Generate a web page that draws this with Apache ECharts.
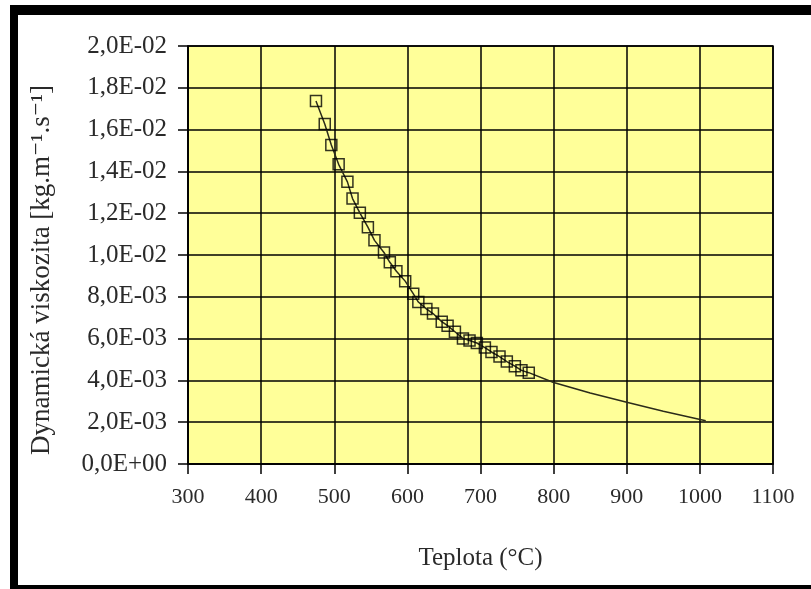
<!DOCTYPE html>
<html>
<head>
<meta charset="utf-8">
<script src="https://cdn.jsdelivr.net/npm/echarts@6/dist/echarts.min.js"></script>
<style>
  html, body { margin: 0; padding: 0; background: #ffffff; }
  #chart { width: 811px; height: 589px; }
</style>
</head>
<body>
<div id="chart"></div>
<script>
// Measured points: temperature (°C) and dynamic viscosity (kg·m⁻¹·s⁻¹)
const measuredTemp = [475, 487, 496, 506, 518, 525, 535, 546, 555, 568, 576, 585, 597, 608, 615, 626, 635, 647, 655, 665, 676, 685, 695, 706, 715, 726, 736, 747, 756, 766];
const measuredVisc = [0.01737, 0.01627, 0.01526, 0.01434, 0.01350, 0.01270, 0.01202, 0.01133, 0.01070, 0.01012, 0.00965, 0.00922, 0.00875, 0.00815, 0.00775, 0.00742, 0.00720, 0.00681, 0.00662, 0.00633, 0.00601, 0.00591, 0.00579, 0.00557, 0.00536, 0.00514, 0.00490, 0.00468, 0.00448, 0.00437];

// Continuation of the trend curve past the last measurement
const curveTailTemp = [800, 850, 900, 950, 1008];
const curveTailVisc = [0.00390, 0.00340, 0.00295, 0.00252, 0.00207];

// Axis ranges and steps
const tempMin = 300, tempMax = 1100, tempStep = 100;
const viscMin = 0, viscMax = 0.02, viscStep = 0.002;

// Axis titles
const xTitle = 'Teplota (°C)';
const yTitle = 'Dynamická viskozita [kg.m⁻¹.s⁻¹]';

const markerPoints = measuredTemp.map((t, i) => [t, measuredVisc[i]]);
const curvePoints = markerPoints.concat(curveTailTemp.map((t, i) => [t, curveTailVisc[i]]));

// "1,8E-02" style labels with a decimal comma
function sciComma(v) {
  if (Math.abs(v) < 1e-12) return '0,0E+00';
  let e = Math.floor(Math.log10(Math.abs(v)) + 1e-9);
  let m = v / Math.pow(10, e);
  if (Math.abs(m) >= 9.95) { m /= 10; e += 1; }
  const sign = e < 0 ? '-' : '+';
  const ex = String(Math.abs(e)).padStart(2, '0');
  return m.toFixed(1).replace('.', ',') + 'E' + sign + ex;
}

const serif = '"Liberation Serif", "DejaVu Serif", serif';
const textColor = '#2a2a2a';

const chart = echarts.init(document.getElementById('chart'), null, { renderer: 'canvas' });
chart.setOption({
  backgroundColor: '#ffffff',
  animation: false,
  grid: {
    left: 188, top: 46, width: 585, height: 418,
    show: true,
    backgroundColor: '#ffff99',
    borderColor: '#000000',
    borderWidth: 1.5
  },
  xAxis: {
    type: 'value',
    min: tempMin, max: tempMax, interval: tempStep,
    name: xTitle,
    nameLocation: 'middle',
    nameGap: 82,
    nameTextStyle: { fontFamily: serif, fontSize: 25, color: textColor },
    axisLine: { show: true, lineStyle: { color: '#000', width: 1.5 } },
    axisTick: { show: true, length: 10, lineStyle: { color: '#000', width: 1.5 } },
    axisLabel: { margin: 22, fontFamily: serif, fontSize: 22, color: textColor, formatter: v => String(v) },
    splitLine: { show: true, lineStyle: { color: '#000', width: 1.5 } }
  },
  yAxis: {
    type: 'value',
    min: viscMin, max: viscMax, interval: viscStep,
    axisLine: { show: true, lineStyle: { color: '#000', width: 1.5 } },
    axisTick: { show: true, length: 10, lineStyle: { color: '#000', width: 1.5 } },
    axisLabel: { margin: 21, fontFamily: serif, fontSize: 25, color: textColor, formatter: sciComma },
    splitLine: { show: true, lineStyle: { color: '#000', width: 1.5 } }
  },
  series: [
    {
      name: 'trend',
      type: 'line',
      data: curvePoints,
      showSymbol: false,
      symbol: 'none',
      lineStyle: { color: '#2b2b1a', width: 1.5 },
      z: 2
    },
    {
      name: 'měření',
      type: 'scatter',
      data: markerPoints,
      symbol: 'rect',
      symbolSize: 11,
      itemStyle: { color: 'rgba(0,0,0,0)', borderColor: '#000', borderWidth: 1.5 },
      z: 3
    }
  ],
  graphic: [
    { type: 'rect', shape: { x: 10, y: 5, width: 801, height: 10 }, style: { fill: '#000' }, silent: true },
    { type: 'rect', shape: { x: 10, y: 5, width: 8, height: 584 }, style: { fill: '#000' }, silent: true },
    { type: 'rect', shape: { x: 10, y: 585, width: 801, height: 4 }, style: { fill: '#000' }, silent: true },
    {
      type: 'text', x: 42, y: 270, rotation: Math.PI / 2, silent: true,
      style: { text: yTitle, fontFamily: serif, fontSize: 27, fill: textColor, align: 'center', verticalAlign: 'middle' }
    }
  ]
});
</script>
</body>
</html>
